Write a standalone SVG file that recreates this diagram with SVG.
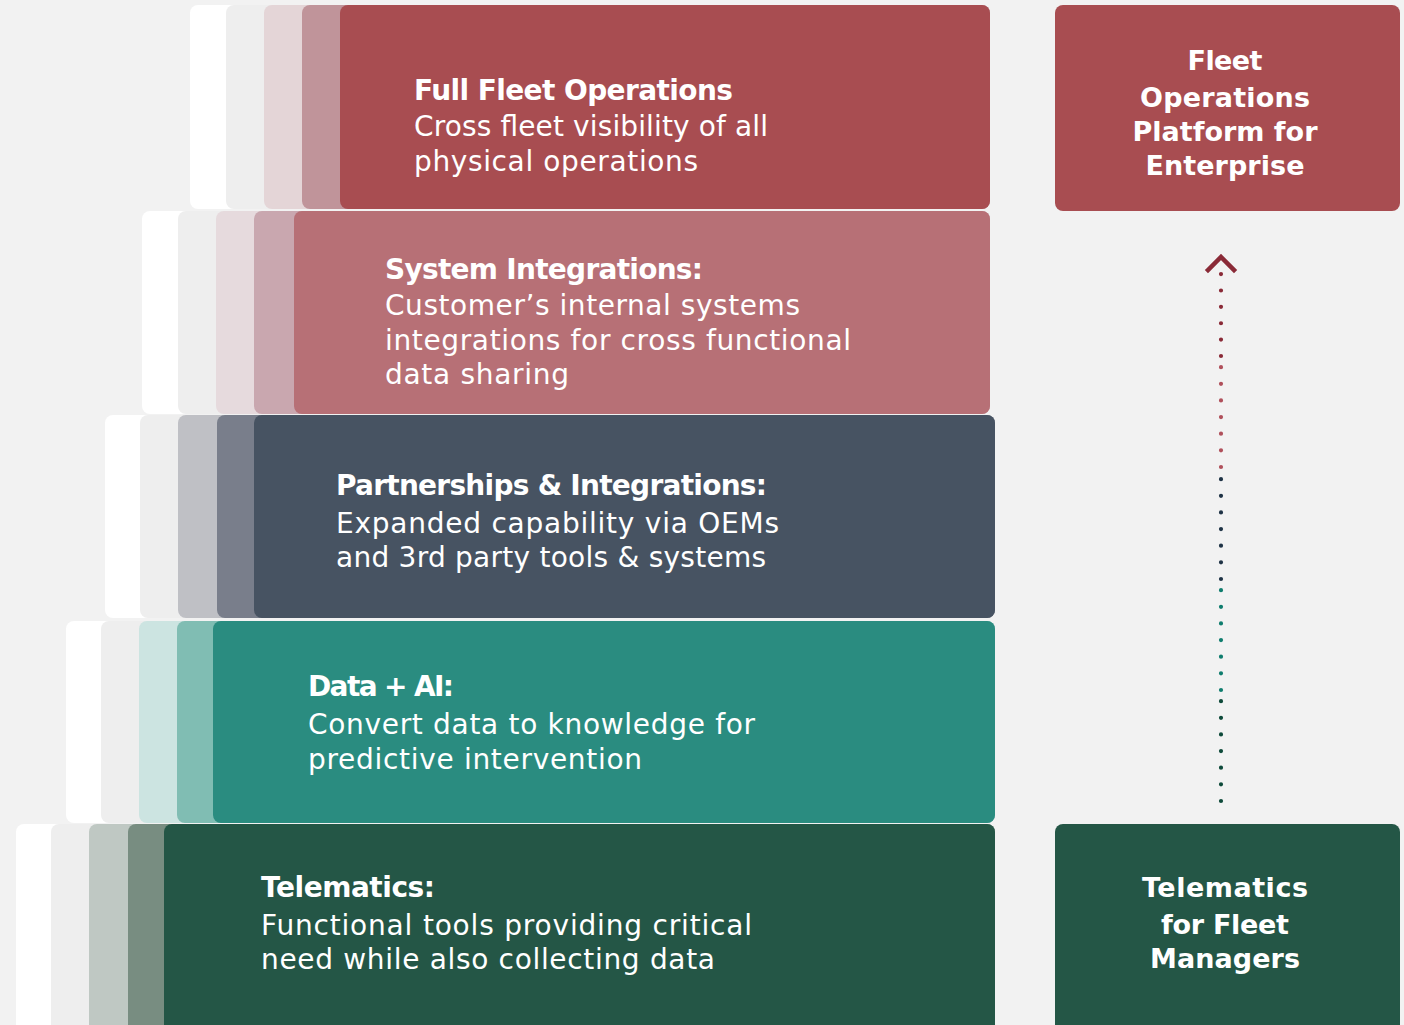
<svg xmlns="http://www.w3.org/2000/svg" width="1404" height="1025" viewBox="0 0 1404 1025">
  <style>
    .bg { fill: #f2f2f2; }
    .txt { font-family: "DejaVu Sans", "Liberation Sans", sans-serif; fill: #ffffff; font-size: 28px; }
    .ttl { font-weight: bold; }
    .side { font-family: "DejaVu Sans", "Liberation Sans", sans-serif; fill: #ffffff; font-size: 27px; font-weight: bold; text-anchor: middle; }
    .dots { fill: none; stroke-width: 4.2; stroke-linecap: round; }
  </style>

  <rect class="bg" x="0" y="0" width="1404" height="1025"/>

  <!-- Tier 1: Full Fleet Operations -->
  <g id="tier-full-fleet">
    <rect x="190" y="5" width="800" height="204" rx="8" fill="#ffffff"/>
    <rect x="226" y="5" width="764" height="204" rx="8" fill="#eeeeee"/>
    <rect x="264" y="5" width="726" height="204" rx="8" fill="#e4d5d7"/>
    <rect x="302" y="5" width="688" height="204" rx="8" fill="#c0949a"/>
    <rect x="340" y="5" width="650" height="204" rx="8" fill="#a84d51"/>
    <text class="txt ttl" x="414" y="100" textLength="319">Full Fleet Operations</text>
    <text class="txt" x="414" y="136" textLength="354">Cross fleet visibility of all</text>
    <text class="txt" x="414" y="171" textLength="284">physical operations</text>
  </g>

  <!-- Tier 2: System Integrations -->
  <g id="tier-system-integrations">
    <rect x="142" y="211" width="848" height="203" rx="8" fill="#ffffff"/>
    <rect x="178" y="211" width="812" height="203" rx="8" fill="#eeeeee"/>
    <rect x="216" y="211" width="774" height="203" rx="8" fill="#e6dadd"/>
    <rect x="254" y="211" width="736" height="203" rx="8" fill="#c9a7af"/>
    <rect x="294" y="211" width="696" height="203" rx="8" fill="#b77076"/>
    <text class="txt ttl" x="385" y="279" textLength="318">System Integrations:</text>
    <text class="txt" x="385" y="315" textLength="415">Customer’s internal systems</text>
    <text class="txt" x="385" y="350" textLength="466">integrations for cross functional</text>
    <text class="txt" x="385" y="384" textLength="184">data sharing</text>
  </g>

  <!-- Tier 3: Partnerships & Integrations -->
  <g id="tier-partnerships">
    <rect x="105" y="415" width="890" height="203" rx="8" fill="#ffffff"/>
    <rect x="140" y="415" width="855" height="203" rx="8" fill="#eeeeee"/>
    <rect x="178" y="415" width="817" height="203" rx="8" fill="#bfc0c5"/>
    <rect x="217" y="415" width="778" height="203" rx="8" fill="#797e8b"/>
    <rect x="254" y="415" width="741" height="203" rx="8" fill="#475362"/>
    <text class="txt ttl" x="336" y="495" textLength="431">Partnerships &amp; Integrations:</text>
    <text class="txt" x="336" y="533" textLength="443">Expanded capability via OEMs</text>
    <text class="txt" x="336" y="567" textLength="430">and 3rd party tools &amp; systems</text>
  </g>

  <!-- Tier 4: Data + AI -->
  <g id="tier-data-ai">
    <rect x="66" y="621" width="929" height="202" rx="8" fill="#ffffff"/>
    <rect x="101" y="621" width="894" height="202" rx="8" fill="#eeeeee"/>
    <rect x="139" y="621" width="856" height="202" rx="8" fill="#cce4e1"/>
    <rect x="177" y="621" width="818" height="202" rx="8" fill="#80bdb3"/>
    <rect x="213" y="621" width="782" height="202" rx="8" fill="#2a8c80"/>
    <text class="txt ttl" x="308" y="696" textLength="146">Data + AI:</text>
    <text class="txt" x="308" y="734" textLength="447">Convert data to knowledge for</text>
    <text class="txt" x="308" y="769" textLength="334">predictive intervention</text>
  </g>

  <!-- Tier 5: Telematics -->
  <g id="tier-telematics">
    <rect x="16" y="824" width="979" height="210" rx="8" fill="#ffffff"/>
    <rect x="51" y="824" width="944" height="210" rx="8" fill="#eeeeee"/>
    <rect x="89" y="824" width="906" height="210" rx="8" fill="#bfc8c3"/>
    <rect x="128" y="824" width="867" height="210" rx="8" fill="#788d81"/>
    <rect x="164" y="824" width="831" height="210" rx="8" fill="#245646"/>
    <text class="txt ttl" x="261" y="897" textLength="174">Telematics:</text>
    <text class="txt" x="261" y="935" textLength="491">Functional tools providing critical</text>
    <text class="txt" x="261" y="969" textLength="454">need while also collecting data</text>
  </g>

  <!-- Right column: end state -->
  <g id="box-enterprise">
    <rect x="1055" y="5" width="345" height="206" rx="8" fill="#a84d51"/>
    <text class="side" x="1225" y="70" textLength="75">Fleet</text>
    <text class="side" x="1225" y="107" textLength="170">Operations</text>
    <text class="side" x="1225" y="141" textLength="185">Platform for</text>
    <text class="side" x="1225" y="175" textLength="159">Enterprise</text>
  </g>

  <!-- Right column: starting point -->
  <g id="box-fleet-managers">
    <rect x="1055" y="824" width="345" height="210" rx="8" fill="#245646"/>
    <text class="side" x="1225" y="897" textLength="166">Telematics</text>
    <text class="side" x="1225" y="934" textLength="128">for Fleet</text>
    <text class="side" x="1225" y="968" textLength="150">Managers</text>
  </g>

  <!-- Progression arrow: dotted segments coloured per tier -->
  <g id="connectors">
    <line class="dots" x1="1221" y1="801" x2="1221" y2="701" stroke="#0e4a3a" stroke-dasharray="0 16.64"/>
    <line class="dots" x1="1221" y1="690" x2="1221" y2="590" stroke="#0f7d6e" stroke-dasharray="0 16.64"/>
    <line class="dots" x1="1221" y1="579" x2="1221" y2="479" stroke="#1f3346" stroke-dasharray="0 16.64"/>
    <line class="dots" x1="1221" y1="467" x2="1221" y2="367" stroke="#b0505b" stroke-dasharray="0 16.64"/>
    <line class="dots" x1="1221" y1="356" x2="1221" y2="274" stroke="#8a2a37" stroke-dasharray="0 16.38"/>
    <polyline points="1208,270 1221,257 1234,270" fill="none" stroke="#8a2a37" stroke-width="4.5" stroke-linecap="square"/>
  </g>
</svg>
